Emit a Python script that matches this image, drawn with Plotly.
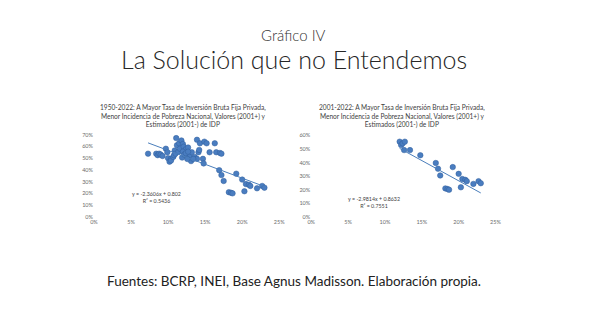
import plotly.graph_objects as go

# Private gross fixed investment rate (share of GDP) vs. national poverty incidence
# Years 1950-2000 (estimated poverty)
inv_pre2001 = [7.3, 8.4, 8.6, 8.8, 9.0, 9.25, 9.7, 9.9, 10.0, 10.2, 10.4, 10.4, 10.7,
               10.8, 10.9, 11.0, 11.1, 11.2, 11.4, 11.5, 11.6, 11.8, 11.9, 12.0, 12.1,
               12.4, 12.7, 12.9, 13.1, 13.2, 13.6, 13.9, 13.9, 14.1, 14.2, 14.3, 14.7,
               14.9, 15.2, 15.6, 16.3, 16.5, 17.0, 17.2]
pov_pre2001 = [53.8, 53.8, 52.5, 53.8, 53.0, 51.8, 58.0, 55.0, 50.0, 47.0, 49.4, 48.0, 51.0,
               52.5, 56.5, 53.8, 67.0, 61.0, 55.5, 62.6, 58.0, 65.0, 50.5, 62.0, 59.7,
               57.5, 59.0, 52.0, 47.5, 55.0, 51.0, 49.4, 65.6, 55.0, 57.0, 62.6, 49.4,
               64.0, 62.6, 55.0, 62.6, 55.0, 54.4, 53.8]

# Years 2001-2022 (measured poverty)
inv_2001 = [12.0, 12.2, 12.4, 12.7, 12.6, 13.4, 14.8, 16.9, 17.2, 17.5, 18.2, 18.5, 18.7,
            19.2, 20.0, 20.5, 20.9, 21.1, 20.3, 22.0, 22.7, 23.0]
pov_2001 = [55.5, 53.0, 54.2, 55.5, 49.3, 49.3, 45.5, 39.8, 35.6, 30.6, 21.1, 20.6, 20.1,
            36.8, 31.8, 28.0, 27.4, 26.4, 21.9, 24.4, 26.4, 24.9]

# Linear trend coefficients (fraction units)
slope_all, intercept_all, r2_all = -2.3606, 0.802, 0.5436
slope_01, intercept_01, r2_01 = -2.9814, 0.8632, 0.7551

x_ticks = [0, 0.05, 0.10, 0.15, 0.20, 0.25]
x_tick_labels = ["0%", "5%", "10%", "15%", "20%", "25%"]

title_left = ("1950-2022: A Mayor Tasa de Inversión Bruta Fija Privada,<br>"
              "Menor Incidencia de Pobreza Nacional, Valores (2001+) y<br>"
              "Estimados (2001-) de IDP")
title_right = ("2001-2022: A Mayor Tasa de Inversión Bruta Fija Privada,<br>"
               "Menor Incidencia de Pobreza Nacional, Valores (2001+) y<br>"
               "Estimados (2001-) de IDP")

W, H = 589, 331
FONT = "Lato, 'Open Sans', sans-serif"
MARKER_COLOR = "#4a7dc0"
LINE_COLOR = "#4a7ebb"

inv_all = [v / 100 for v in inv_pre2001 + inv_2001]
pov_all = [v / 100 for v in pov_pre2001 + pov_2001]
inv_new = [v / 100 for v in inv_2001]
pov_new = [v / 100 for v in pov_2001]

fig = go.Figure()

marker = dict(size=5.5, color=MARKER_COLOR,
              line=dict(color="#315f9c", width=0.5))

def add_panel(xs, ys, slope, intercept, xaxis, yaxis):
    fig.add_trace(go.Scatter(x=xs, y=ys, mode="markers", marker=marker,
                             xaxis=xaxis, yaxis=yaxis, showlegend=False,
                             hoverinfo="x+y"))
    x0, x1 = min(xs), max(xs)
    fig.add_trace(go.Scatter(x=[x0, x1],
                             y=[intercept + slope * x0, intercept + slope * x1],
                             mode="lines", line=dict(color=LINE_COLOR, width=1),
                             xaxis=xaxis, yaxis=yaxis, showlegend=False,
                             hoverinfo="skip"))

add_panel(inv_all, pov_all, slope_all, intercept_all, "x", "y")
add_panel(inv_new, pov_new, slope_01, intercept_01, "x2", "y2")

def px_x(px):
    return px / W

def px_y(py):
    return 1 - py / H

tick_font = dict(family=FONT, size=5.5, color="#6b6b6b")
common_x = dict(range=[0, 0.25], tickvals=x_ticks, ticktext=x_tick_labels,
                showgrid=False, zeroline=False, showline=False,
                tickfont=tick_font, ticks="", fixedrange=True)
common_y = dict(showgrid=False, zeroline=False, showline=False,
                tickformat=".0%", dtick=0.1, tickfont=tick_font, ticks="",
                fixedrange=True)

fig.update_layout(
    width=W, height=H,
    margin=dict(l=0, r=0, t=0, b=0),
    paper_bgcolor="white", plot_bgcolor="white",
    xaxis=dict(domain=[px_x(91.5), px_x(280)], anchor="y", **common_x),
    yaxis=dict(domain=[px_y(218), px_y(134)], range=[0, 0.7], anchor="x", **common_y),
    xaxis2=dict(domain=[px_x(312.5), px_x(500)], anchor="y2", **common_x),
    yaxis2=dict(domain=[px_y(218), px_y(135)], range=[0, 0.6], anchor="x2", **common_y),
)

annotations = [
    dict(text="Gráfico IV", x=0.5, y=px_y(33),
         font=dict(family=FONT, size=15, color="#333333", weight=300)),
    dict(text="La Solución que no Entendemos", x=0.5, y=px_y(57),
         font=dict(family=FONT, size=25, color="#262626", weight=300)),
    dict(text="Fuentes: BCRP, INEI, Base Agnus Madisson. Elaboración propia.", x=0.5,
         y=px_y(283), font=dict(family=FONT, size=13.5, color="#222222")),
    dict(text=title_left, x=px_x(182), y=px_y(115),
         font=dict(family=FONT, size=6.6, color="#404040")),
    dict(text=title_right, x=px_x(405), y=px_y(115),
         font=dict(family=FONT, size=6.6, color="#404040")),
    dict(text=f"y = {slope_all}x + {intercept_all}<br>R² = {r2_all}", x=px_x(155), y=px_y(198),
         font=dict(family=FONT, size=5.3, color="#404040")),
    dict(text=f"y = {slope_01}x + {intercept_01}<br>R² = {r2_01}", x=px_x(376), y=px_y(203),
         font=dict(family=FONT, size=5.3, color="#404040")),
]
for a in annotations:
    a.update(xref="paper", yref="paper", showarrow=False, xanchor="center", yanchor="middle")
fig.update_layout(annotations=annotations)

fig.write_html("out.html")
